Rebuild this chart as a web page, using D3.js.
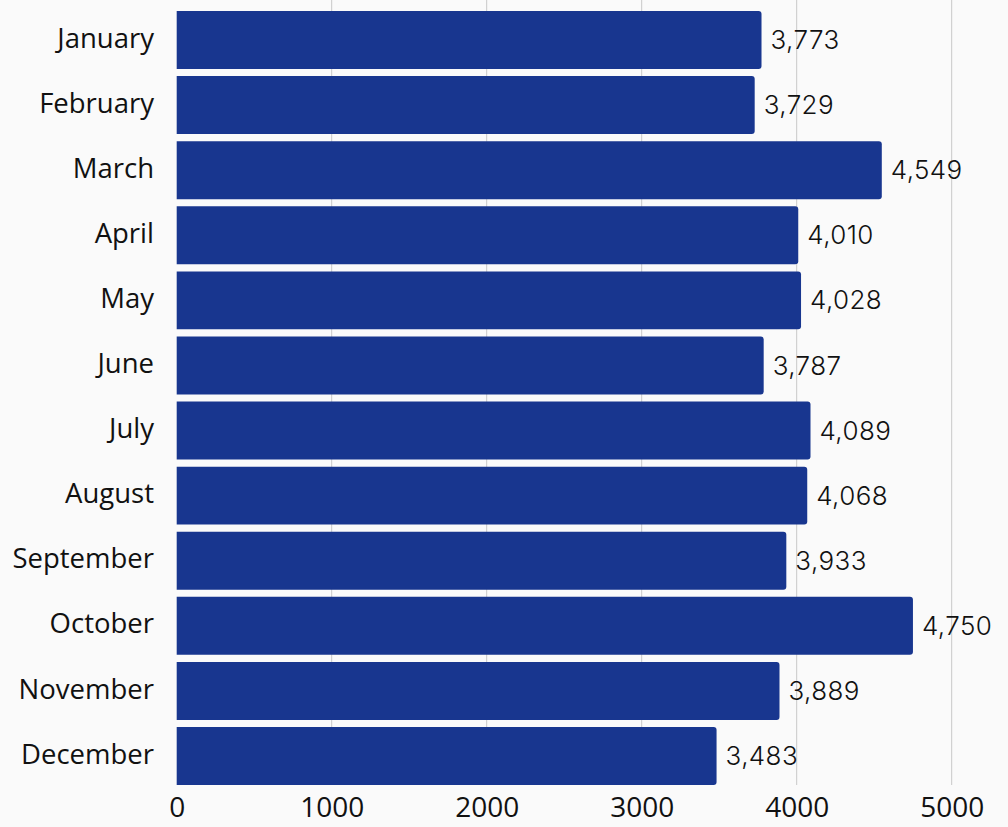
<!DOCTYPE html>
<html><head><meta charset="utf-8">
<script src="https://cdn.jsdelivr.net/npm/d3@7"></script>
<style>
html,body{margin:0;padding:0;background:#fafafa;}
svg{display:block;}
</style></head>
<body>
<script>
const months = ["January","February","March","April","May","June","July","August","September","October","November","December"];
const values = [3773,3729,4549,4010,4028,3787,4089,4068,3933,4750,3889,3483];
const ticks = [0,1000,2000,3000,4000,5000];

const W = 1008, H = 827;
const svg = d3.select("body").append("svg").attr("width",W).attr("height",H);
svg.append("rect").attr("width",W).attr("height",H).attr("fill","#fafafa");

const x = d3.scaleLinear().domain([0,5200]).range([176.7, 176.7 + 5200*0.155]);
const y = d3.scaleBand().domain(months).range([11, 785]).paddingInner(0.11).paddingOuter(0);

// grid
svg.append("g").selectAll("line").data(ticks.slice(1)).join("line")
  .attr("x1",d=>x(d)).attr("x2",d=>x(d))
  .attr("y1",0).attr("y2",785)
  .attr("stroke","#c8c8c8").attr("stroke-width",1);

// bars with rounded right corners
const r = 3;
svg.append("g").selectAll("path").data(months).join("path")
  .attr("d",(m,i)=>{
    const x0 = x(0), x1 = x(values[i]), y0 = y(m), h = y.bandwidth();
    return `M${x0},${y0}H${x1-r}Q${x1},${y0} ${x1},${y0+r}V${y0+h-r}Q${x1},${y0+h} ${x1-r},${y0+h}H${x0}Z`;
  })
  .attr("fill","#18368f");

// value labels
const fmt = d3.format(",");
svg.append("g").selectAll("text").data(months).join("text")
  .attr("x",(m,i)=>x(values[i])+9)
  .attr("y",m=>y(m)+y.bandwidth()/2)
  .attr("dy","0.35em")
  .attr("font-family","Inter, sans-serif")
  .attr("font-size",26).attr("font-weight",300).attr("letter-spacing",0.4).attr("fill","#111")
  .text((m,i)=>fmt(values[i]));

// category labels
svg.append("g").selectAll("text").data(months).join("text")
  .attr("x",154)
  .attr("y",m=>y(m)+y.bandwidth()/2 - 2)
  .attr("dy","0.35em").attr("text-anchor","end")
  .attr("font-family","'Open Sans', 'Noto Sans', sans-serif")
  .attr("font-size",27.5).attr("fill","#111")
  .text(m=>m);

// x axis tick labels
const axis = svg.append("g").attr("transform","translate(0,785)")
  .call(d3.axisBottom(x).tickValues(ticks).tickFormat(d3.format("d")).tickSize(0).tickPadding(12));
axis.select(".domain").remove();
axis.selectAll("text").attr("font-family","'Open Sans', 'Noto Sans', sans-serif")
  .attr("font-size",28).attr("fill","#111");
</script>
</body></html>
